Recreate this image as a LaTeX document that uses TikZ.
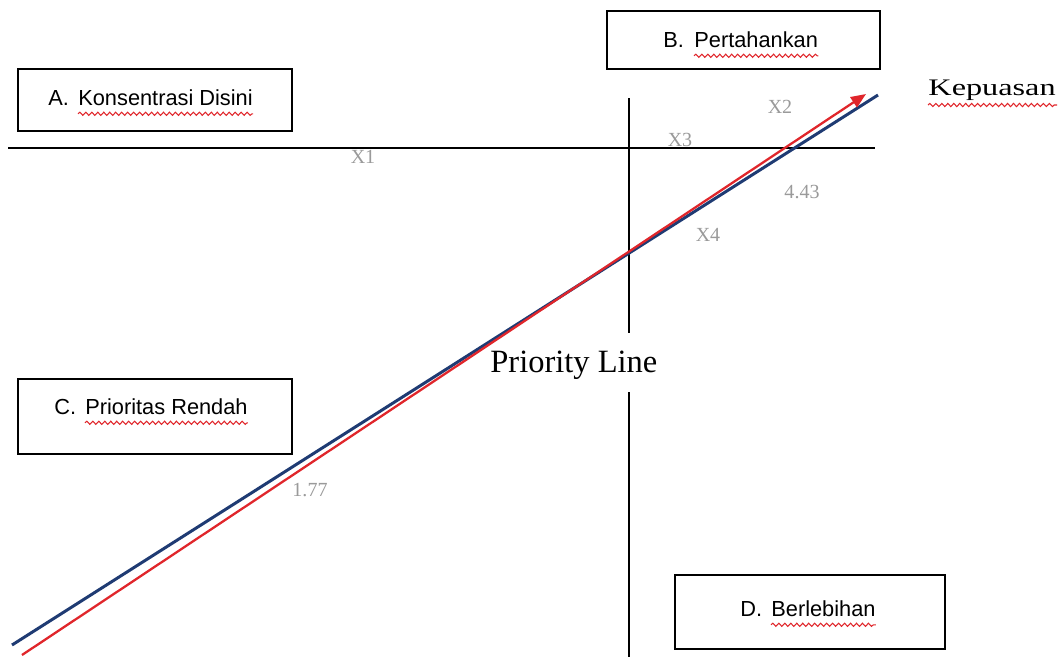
\documentclass[tikz,border=0pt]{standalone}
\usepackage{fontspec}
\setmainfont{Liberation Serif}
\newfontfamily\boxfont{Liberation Sans}
\usetikzlibrary{arrows.meta,decorations.pathmorphing}
\definecolor{lblue}{HTML}{1F3B73}
\definecolor{lred}{HTML}{E0262B}
\definecolor{lgray}{HTML}{9A9A9A}
\begin{document}
\begin{tikzpicture}[x=0.02cm,y=-0.02cm,
  quad/.style={draw=black,line width=1.1pt,inner sep=0,fill=none},
  btext/.style={font=\boxfont\fontsize{12.4}{14}\selectfont,inner sep=0,anchor=base west},
  val/.style={font=\fontsize{11.4}{13}\selectfont,text=lgray,inner sep=0},
  big/.style={font=\fontsize{18.5}{22}\selectfont,inner sep=0},
  wavy/.style={draw=lred,line width=0.6pt,decorate,decoration={snake,amplitude=0.9pt,segment length=3.4pt}},
  axisline/.style={draw=black,line width=1.1pt},
  blueline/.style={draw=lblue,line width=1.7pt},
  redline/.style={draw=lred,line width=1.3pt,-{Triangle[length=0.3cm,width=0.24cm]}},
]
\useasboundingbox (0,0) rectangle (1064,657);

% boxes
\node[quad,minimum width=5.48cm,minimum height=1.24cm] (boxA) at (155,100) {};
\node[quad,minimum width=5.46cm,minimum height=1.16cm] (boxB) at (743.5,40) {};
\node[quad,minimum width=5.48cm,minimum height=1.5cm] (boxC) at (155,416.5) {};
\node[quad,minimum width=5.4cm,minimum height=1.48cm] (boxD) at (810,612) {};

% box texts
\node[btext] (Aa) at (48,105) {A.};
\node[btext] (Ab) at (78,105) {Konsentrasi Disini};
\node[btext] (Ba) at (663,47) {B.};
\node[btext] (Bb) at (694,47) {Pertahankan};
\node[btext] (Ca) at (54,414) {C.};
\node[btext] (Cb) at (85,414) {Prioritas Rendah};
\node[btext] (Da) at (740,616) {D.};
\node[btext] (Db) at (771,616) {Berlebihan};

\draw[wavy] ([yshift=-5pt]Ab.base west) -- ([yshift=-5pt]Ab.base east);
\draw[wavy] ([yshift=-5pt]Bb.base west) -- ([yshift=-5pt]Bb.base east);
\draw[wavy] ([yshift=-5pt]Cb.base west) -- ([yshift=-5pt]Cb.base east);
\draw[wavy] ([yshift=-5pt]Db.base west) -- ([yshift=-5pt]Db.base east);

% axes
\coordinate (h1) at (8,148);
\coordinate (h2) at (875,148);
\coordinate (v1) at (629,98);
\coordinate (v2) at (629,333);
\coordinate (v3) at (629,392);
\coordinate (v4) at (629,657);
\draw[axisline] (h1) -- (h2);
\draw[axisline] (v1) -- (v2);
\draw[axisline] (v3) -- (v4);

% big labels
\node[big,anchor=base west] (prio) at (490,372) {Priority Line};
\node[inner sep=0,anchor=base west,xscale=1.36,font=\fontsize{13.5}{16}\selectfont] (kep) at (928,95) {Kepuasan};
\coordinate (k1) at (928,105);
\coordinate (k2) at (1057,105);
\draw[wavy] (k1) -- (k2);

% values
\node[val] (x1) at (363,157) {X1};
\node[val] (x3) at (680,140) {X3};
\node[val] (x2) at (780,107) {X2};
\node[val] (v443) at (802,192) {4.43};
\node[val] (x4) at (708,235) {X4};
\node[val] (v177) at (310,490) {1.77};

% trend lines
\coordinate (b1) at (12,645);
\coordinate (b2) at (878,95);
\coordinate (r1) at (22,655);
\coordinate (r2) at (866,94);
\draw[blueline] (b1) -- (b2);
\draw[redline] (r1) -- (r2);
\end{tikzpicture}
\end{document}
